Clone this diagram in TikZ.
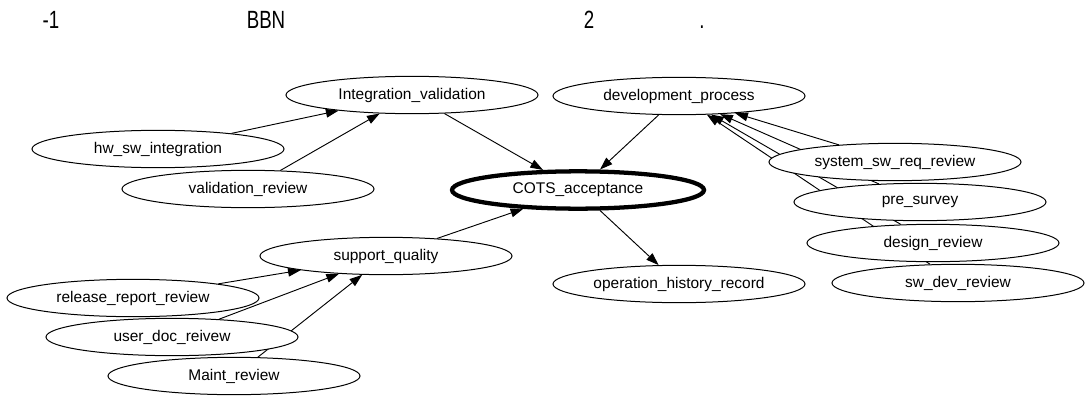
\documentclass[tikz,border=0pt]{standalone}
\usepackage{fontspec}
\setmainfont{Liberation Sans}
\newfontfamily\titlefont[FakeStretch=0.75]{Liberation Sans}
\usetikzlibrary{shapes.geometric,arrows.meta,backgrounds}

\begin{document}
\begin{tikzpicture}
	[x=0.75pt, y=-0.75pt,
	var/.style ={ellipse, draw=black, line width=0.75pt, fill=white, minimum width=189pt, minimum height=28pt, inner sep=0pt, font=\fontsize{11.6}{14}\selectfont},
	goal/.style ={var, line width=3.2pt},
	line/.style ={draw, line width=0.7pt, -{Triangle[length=9.5pt,width=6.5pt]}},
	head/.style ={anchor=base, font=\titlefont\fontsize{18.7}{22}\selectfont}]
	\useasboundingbox (0,0) rectangle (1085,396);
	% title line
	\draw (51, 28) node[head] (t1) {-1};
	\draw (266, 28) node[head] (t2) {BBN};
	\draw (589, 28) node[head] (t3) {2};
	\draw (702, 28) node[head] (t4) {.};
	% network
	\draw (412, 95) node[var] (intval) {Integration\_validation};
	\draw (679, 96) node[var] (devproc) {development\_process};
	\draw (158, 149) node[var] (hwsw) {hw\_sw\_integration};
	\draw (248, 189) node[var] (valrev) {validation\_review};
	\draw (578, 190) node[goal] (cots) {COTS\_acceptance};
	\draw (895, 162) node[var] (sysreq) {system\_sw\_req\_review};
	\draw (920, 202) node[var] (presurv) {pre\_survey};
	\draw (933, 243) node[var] (desrev) {design\_review};
	\draw (958, 283) node[var] (swdev) {sw\_dev\_review};
	\draw (386, 256) node[var] (suppq) {support\_quality};
	\draw (679, 284) node[var] (ophist) {operation\_history\_record};
	\draw (133, 298) node[var] (relrep) {release\_report\_review};
	\draw (172, 337) node[var] (userdoc) {user\_doc\_reivew};
	\draw (234, 376) node[var] (maint) {Maint\_review};
	\begin{pgfonlayer}{background}
	\draw[line] (hwsw) -- (intval);
	\draw[line] (valrev) -- (intval);
	\draw[line] (intval) -- (cots);
	\draw[line] (devproc) -- (cots);
	\draw[line] (suppq) -- (cots);
	\draw[line] (cots) -- (ophist);
	\draw[line] (relrep) -- (suppq);
	\draw[line] (userdoc) -- (suppq);
	\draw[line] (maint) -- (suppq);
	\draw[line] (sysreq) -- (devproc);
	\draw[line] (presurv) -- (devproc);
	\draw[line] (desrev) -- (devproc);
	\draw[line] (swdev) -- (devproc);
	\end{pgfonlayer}
\end{tikzpicture}
\end{document}
